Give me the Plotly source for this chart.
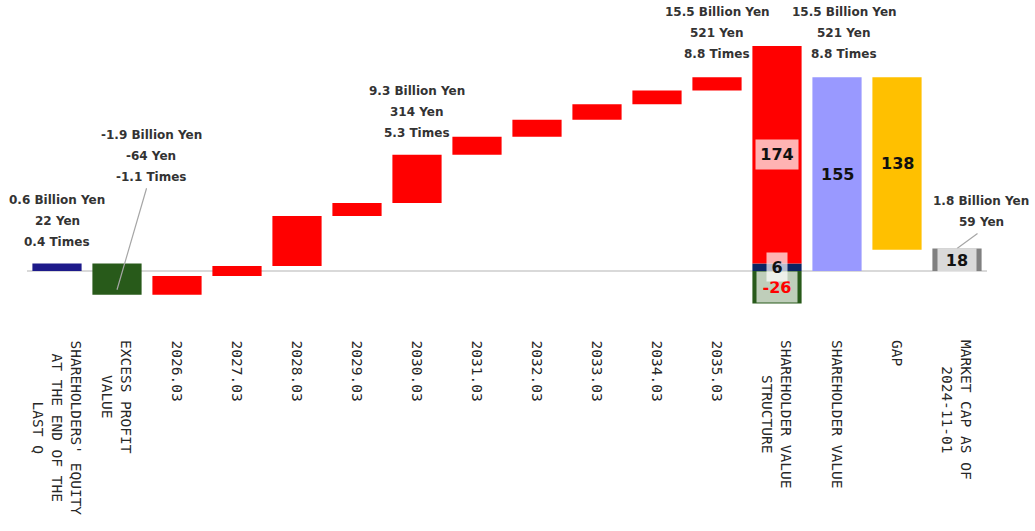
import plotly.graph_objects as go
import numpy as np

# ---------------- data ----------------
categories = [
    "SHAREHOLDERS' EQUITY<br>AT THE END OF THE<br>LAST Q",
    "EXCESS PROFIT<br>VALUE",
    "2026.03", "2027.03", "2028.03", "2029.03", "2030.03",
    "2031.03", "2032.03", "2033.03", "2034.03", "2035.03",
    "SHAREHOLDER VALUE<br>STRUCTURE",
    "SHAREHOLDER VALUE",
    "GAP",
    "MARKET CAP AS OF<br>2024-11-01",
]
equity_value = 6
excess_profit_value = -25
yearly_increments = [15, 8, 40, 10.5, 38.5, 14.5, 13.5, 12.5, 11, 10.5]

structure_excess = -26
structure_equity = 6
structure_profit = 174
shareholder_value = 155
gap_value = 138
market_cap = 18

equity_label = ["0.6 Billion Yen", "22 Yen", "0.4 Times"]
excess_label = ["-1.9 Billion Yen", "-64 Yen", "-1.1 Times"]
fy2030_label = ["9.3 Billion Yen", "314 Yen", "5.3 Times"]
fy2035_label = ["15.5 Billion Yen", "521 Yen", "8.8 Times"]
sv_label = ["15.5 Billion Yen", "521 Yen", "8.8 Times"]
mcap_label = ["1.8 Billion Yen", "59 Yen"]

# ---------------- styles ----------------
NAVY1 = "#1d1a8a"
NAVY2 = "#0a2462"
GREEN = "#285a1a"
RED = "#ff0000"
LAV = "#9999ff"
GOLD = "#ffc000"
GRAY = "#808080"
W = 0.82

pos = list(range(len(categories)))

fig = go.Figure()

def add_bar(i, y, base, color):
    fig.add_trace(go.Bar(x=[pos[i]], y=[y], base=[base], width=W,
                         marker=dict(color=color, line=dict(width=0)),
                         showlegend=False, hoverinfo="skip"))

# waterfall part
add_bar(0, equity_value, 0, NAVY1)
after_excess = equity_value + excess_profit_value
add_bar(1, excess_profit_value, equity_value, GREEN)
totals = after_excess + np.cumsum(yearly_increments)
bases = np.concatenate([[after_excess], totals[:-1]])
fig.add_trace(go.Bar(x=pos[2:12], y=yearly_increments, base=list(bases), width=W,
                     marker=dict(color=RED, line=dict(width=0)),
                     showlegend=False, hoverinfo="skip"))

# structure and right-hand bars
add_bar(12, structure_excess, 0, GREEN)
add_bar(12, structure_equity, 0, NAVY2)
add_bar(12, structure_profit, structure_equity, RED)
add_bar(13, shareholder_value, 0, LAV)
gap_base = shareholder_value - gap_value
add_bar(14, gap_value, gap_base, GOLD)
add_bar(15, market_cap, 0, GRAY)

ann = []
TXT = dict(family="DejaVu Sans", size=12, color="#333333", weight="bold")

def stack_label(i, ytop, lines, xshift=0, shifts=(64, 43, 22)):
    for line, s in zip(lines, shifts):
        ann.append(dict(x=pos[i], y=ytop, xref="x", yref="y", text=line, showarrow=False,
                        font=TXT, xanchor="center", yanchor="middle",
                        xshift=xshift, yshift=s))

stack_label(0, equity_value, equity_label)
stack_label(1, equity_value, excess_label, xshift=34, shifts=(129, 108, 87))
stack_label(6, float(totals[4]), fy2030_label)
stack_label(11, float(totals[9]), fy2035_label, shifts=(65, 44, 23))
stack_label(13, shareholder_value, sv_label, xshift=7, shifts=(65, 44, 23))
stack_label(15, market_cap, mcap_label, xshift=24, shifts=(47.5, 26.5))

# leader lines
ann.append(dict(x=pos[1], y=after_excess + 4, xref="x", yref="y", text="",
                showarrow=True, arrowhead=0, arrowwidth=1.2, arrowcolor="#a6a6a6",
                ax=30, ay=-103, standoff=0))
ann.append(dict(x=pos[15], y=market_cap, xref="x", yref="y", text="",
                showarrow=True, arrowhead=0, arrowwidth=1.2, arrowcolor="#a6a6a6",
                ax=22, ay=-16, standoff=0))

# inside value labels
BIG = dict(family="DejaVu Sans", size=16, color="#111111", weight="bold")
BOX = "rgba(255,255,255,0.7)"

def val_label(i, y, text, color="#111111", bg=None, w=None, h=None):
    d = dict(x=pos[i], y=y, xref="x", yref="y", text=text, showarrow=False,
             font=dict(BIG, color=color), xanchor="center", yanchor="middle", borderpad=0)
    if bg:
        d.update(bgcolor=bg, width=w, height=h)
    ann.append(d)

val_label(12, structure_equity + structure_profit / 2, str(structure_profit), bg=BOX, w=42, h=29)
val_label(12, structure_excess / 2, str(structure_excess), color=RED, bg=BOX, w=40, h=30)
val_label(12, structure_equity / 2, str(structure_equity), bg=BOX, w=20, h=28)
val_label(13, shareholder_value / 2, str(shareholder_value))
val_label(14, gap_base + gap_value / 2, str(gap_value))
val_label(15, market_cap / 2, str(market_cap), bg=BOX, w=38, h=22)

# category labels
for i, c in enumerate(categories):
    ann.append(dict(x=pos[i], y=0, xref="x", yref="paper", text=c, showarrow=False,
                    textangle=90, xanchor="center", yanchor="top", yshift=-3,
                    align="center",
                    font=dict(family="DejaVu Sans Mono", size=14.5, color="#262626")))

fig.update_layout(
    width=1035, height=531,
    margin=dict(l=27, r=48, t=10, b=196),
    paper_bgcolor="white", plot_bgcolor="white",
    barmode="overlay",
    annotations=ann,
    xaxis=dict(range=[-0.5, 15.5], showticklabels=False, showgrid=False,
               zeroline=False, showline=False, ticks=""),
    yaxis=dict(range=[-51.2, 208.8], showticklabels=False, showgrid=False,
               zeroline=True, zerolinecolor="#d9d9d9", zerolinewidth=2,
               showline=False, ticks=""),
)

fig.write_html("out.html")
